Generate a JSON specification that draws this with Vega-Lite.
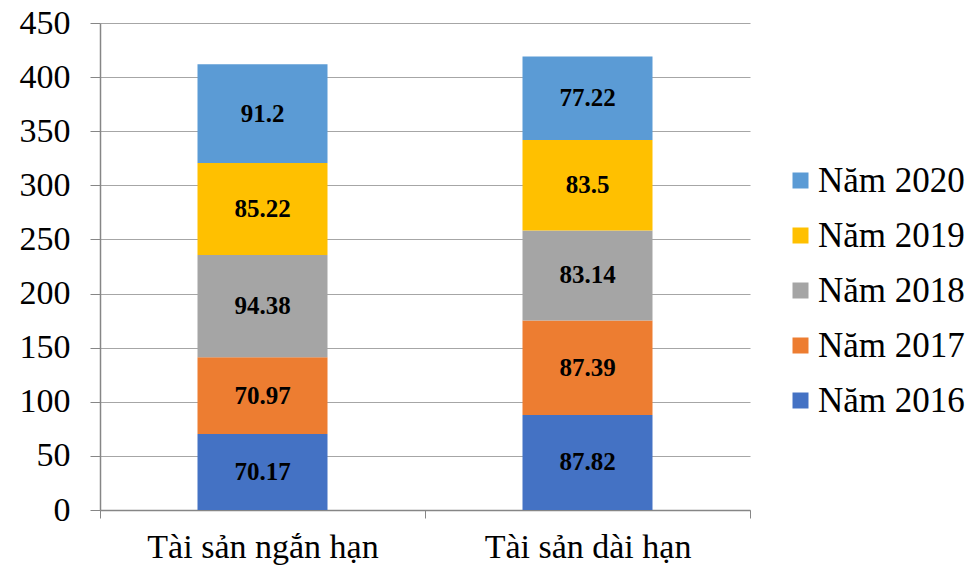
{
  "$schema": "https://vega.github.io/schema/vega-lite/v6.json",
  "width": 650,
  "height": 487,
  "autosize": "none",
  "padding": {"left": 100, "top": 23, "right": 228, "bottom": 57},
  "background": "white",
  "config": {"view": {"stroke": null}, "font": "Liberation Serif"},
  "data": {"values": [
    {"cat": "Tài sản ngắn hạn", "yr": "Năm 2016", "v": 70.17},
    {"cat": "Tài sản ngắn hạn", "yr": "Năm 2017", "v": 70.97},
    {"cat": "Tài sản ngắn hạn", "yr": "Năm 2018", "v": 94.38},
    {"cat": "Tài sản ngắn hạn", "yr": "Năm 2019", "v": 85.22},
    {"cat": "Tài sản ngắn hạn", "yr": "Năm 2020", "v": 91.2},
    {"cat": "Tài sản dài hạn", "yr": "Năm 2016", "v": 87.82},
    {"cat": "Tài sản dài hạn", "yr": "Năm 2017", "v": 87.39},
    {"cat": "Tài sản dài hạn", "yr": "Năm 2018", "v": 83.14},
    {"cat": "Tài sản dài hạn", "yr": "Năm 2019", "v": 83.5},
    {"cat": "Tài sản dài hạn", "yr": "Năm 2020", "v": 77.22}
  ]},
  "transform": [
    {"stack": "v", "groupby": ["cat"], "sort": [{"field": "yr", "order": "ascending"}], "as": ["v0", "v1"]},
    {"calculate": "(datum.v0 + datum.v1) / 2", "as": "mid"}
  ],
  "encoding": {
    "x": {
      "field": "cat", "type": "nominal", "sort": ["Tài sản ngắn hạn", "Tài sản dài hạn"],
      "scale": {"paddingInner": 0, "paddingOuter": 0},
      "axis": {"title": null, "labelAngle": 0, "labelLimit": 0, "labelFont": "Liberation Serif", "labelFontSize": 34, "labelColor": "black", "labelPadding": 12,
               "tickBand": "extent", "tickSize": 8, "domainColor": "#868686", "tickColor": "#868686", "domainWidth": 1.5}
    }
  },
  "layer": [
    {
      "mark": {"type": "bar", "width": {"band": 0.4}},
      "encoding": {
        "y": {"field": "v0", "type": "quantitative", "scale": {"domain": [0, 450]},
              "axis": {"title": null, "values": [0,50,100,150,200,250,300,350,400,450], "grid": true, "gridColor": "#a6a6a6", "gridWidth": 1.2,
                       "labelFont": "Liberation Serif", "labelFontSize": 34, "labelColor": "black", "tickSize": 10, "labelPadding": 20,
                       "domainColor": "#868686", "tickColor": "#868686", "domainWidth": 1.5}},
        "y2": {"field": "v1"},
        "color": {
          "field": "yr", "type": "nominal",
          "scale": {"domain": ["Năm 2020", "Năm 2019", "Năm 2018", "Năm 2017", "Năm 2016"],
                    "range": ["#5B9BD5", "#FFC000", "#A5A5A5", "#ED7D31", "#4472C4"]},
          "legend": {"title": null, "orient": "none", "legendX": 683, "legendY": 140, "padding": 0,
                     "labelFont": "Liberation Serif", "labelFontSize": 35, "labelLimit": 0, "labelColor": "black", "symbolType": "square", "symbolSize": 256,
                     "symbolStrokeWidth": 0, "rowPadding": 19, "labelOffset": 0}
        }
      }
    },
    {
      "mark": {"type": "text", "fontWeight": "bold", "fontSize": 25, "color": "black", "font": "Liberation Serif"},
      "encoding": {
        "y": {"field": "mid", "type": "quantitative"},
        "text": {"field": "v", "type": "quantitative"}
      }
    }
  ]
}
